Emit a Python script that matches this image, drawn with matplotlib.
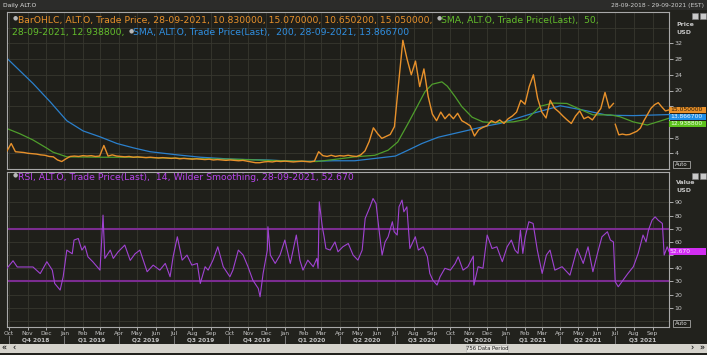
"""
ALT.O daily chart (Eikon style): OHLC price with SMA 50 / SMA 200, RSI 14 panel below.
Output: out.png (707x355).
"""

import matplotlib

matplotlib.use("Agg")

import matplotlib.pyplot as plt
import numpy as np
import pandas as pd
from matplotlib.patches import Rectangle


# ---------------------------------------------------------------------------
# data
# ---------------------------------------------------------------------------

START = pd.Timestamp("2018-09-28")
END = pd.Timestamp("2021-09-28")

# weekly price before the July 2021 gap (28-09-2018 .. 28-06-2021)
close_before_gap = [
    4.6, 6.5, 4.4, 4.3, 4.2, 4.0, 3.9, 3.8, 3.6, 3.5, 3.2, 3.1, 2.3, 1.9, 2.6,
    3.2, 3.3, 3.2, 3.4, 3.3, 3.4, 3.2, 3.3, 6.0, 3.3, 3.6, 3.3, 3.2, 3.1, 3.2,
    3.0, 3.1, 3.0, 2.9, 3.0, 2.9, 2.8, 2.9, 2.8, 2.7, 2.8, 2.6, 2.7, 2.6, 2.5,
    2.6, 2.5, 2.4, 2.5, 2.3, 2.4, 2.3, 2.2, 2.3, 2.2, 2.1, 2.2, 2.0, 1.8, 1.6,
    1.6, 1.8, 1.9, 1.8, 2.0, 1.9, 2.0, 1.9, 1.8, 1.9, 2.0, 1.9, 1.8, 2.0, 4.4,
    3.4, 3.2, 3.5, 3.2, 3.4, 3.3, 3.5, 3.3, 3.2, 3.6, 4.6, 7.0, 10.5, 9.0, 7.8,
    8.3, 8.8, 10.8, 22.0, 32.8, 28.0, 24.0, 27.5, 21.0, 25.5, 18.5, 14.0, 12.3,
    14.5, 12.8, 14.0, 12.8, 14.2, 12.3, 11.7, 11.0, 8.4, 10.0, 10.6, 11.0, 12.3,
    11.8, 12.5, 11.6, 12.8, 13.5, 14.5, 17.5, 16.5, 21.0, 24.0, 18.0, 14.5, 13.0,
    17.5, 15.5, 14.6, 13.5, 12.5, 11.6, 13.5, 14.8, 12.8, 13.3, 12.5, 14.0, 15.4,
    19.5, 15.5, 16.7,
]
GAP_END_DAY = 1004
GAP_START_DAY = 1007

# price after the gap (01-07-2021 .. 28-09-2021)
close_after_gap = [
    11.4, 8.7, 8.9, 8.7, 8.8, 9.2, 9.6, 10.4, 12.3, 13.9, 15.5, 16.4, 16.9,
    15.8, 14.8, 15.05,
]

# SMA 50 (green): days since 28-09-2018, value
sma50_day = [
    0, 21, 43, 66, 76, 99, 154, 209, 265, 320, 374, 431, 485, 513, 540, 576,
    609, 631, 647, 664, 679, 692, 704, 720, 729, 742, 753, 770, 788, 805, 838,
    861, 883, 904, 927, 949, 970, 999, 1015, 1037, 1060, 1081, 1096,
]
sma50_val = [
    10.3, 9.0, 7.4, 5.3, 4.3, 3.1, 3.0, 3.0, 2.8, 2.6, 2.5, 2.2, 2.0, 1.9, 2.4,
    3.1, 3.5, 4.8, 6.9, 11.6, 15.9, 19.7, 21.6, 22.2, 21.1, 18.4, 15.9, 13.2,
    12.0, 11.8, 12.0, 12.7, 16.0, 16.8, 16.7, 15.2, 13.8, 13.8, 13.3, 12.0,
    11.2, 12.2, 12.9388,
]

# SMA 200 (blue)
sma200_day = [
    0, 43, 71, 99, 126, 154, 182, 209, 237, 282, 320, 374, 431, 485, 540, 576,
    643, 664, 687, 714, 742, 770, 792, 816, 871, 916, 954, 994, 1037, 1096,
]
sma200_val = [
    28.2, 21.8, 17.2, 12.3, 9.7, 8.2, 6.5, 5.4, 4.4, 3.6, 3.0, 2.5, 2.3, 1.9,
    2.1, 2.1, 3.3, 4.8, 6.5, 8.1, 9.1, 10.1, 10.9, 11.6, 14.2, 16.1, 15.0,
    13.7, 13.6, 13.8667,
]

# RSI 14 (purple)
rsi_day = [
    0, 10, 17, 43, 55, 66, 75, 79, 88, 93, 99, 108, 111, 118, 124, 129, 134,
    142, 154, 159, 162, 171, 176, 184, 195, 204, 212, 220, 232, 242, 253, 262,
    270, 275, 282, 290, 298, 306, 315, 320, 328, 333, 341, 349, 358, 369, 374,
    383, 391, 399, 407, 416, 419, 424, 431, 432, 436, 444, 452, 460, 469, 479,
    485, 490, 498, 507, 513, 515, 517, 522, 525, 528, 535, 543, 548, 556, 565,
    573, 581, 588, 593, 601, 606, 611, 616, 621, 626, 631, 638, 641, 646, 649,
    654, 657, 662, 667, 676, 681, 689, 696, 700, 705, 712, 717, 725, 734, 742,
    747, 755, 763, 772, 773, 780, 788, 795, 803, 811, 820, 828, 835, 841, 846,
    850, 854, 858, 864, 871, 878, 886, 893, 899, 907, 919, 932, 944, 954, 962,
    970, 979, 985, 994, 999, 1004, 1007, 1012, 1020, 1028, 1037, 1045, 1053,
    1058, 1062, 1068, 1073, 1078, 1085, 1088, 1093, 1096,
]
rsi_val = [
    40.0, 45.7, 41.0, 41.0, 36.0, 45.0, 38.6, 28.5, 23.5, 33.6, 53.8, 51.0,
    61.4, 62.6, 53.8, 57.0, 48.7, 45.0, 38.6, 80.3, 47.5, 53.8, 47.5, 52.5,
    57.6, 46.0, 51.0, 53.8, 37.4, 42.4, 38.6, 43.7, 33.6, 48.7, 63.9, 46.2,
    50.0, 42.4, 43.7, 28.5, 41.2, 38.6, 46.2, 56.3, 41.2, 33.6, 38.6, 53.8,
    50.0, 41.2, 31.0, 24.7, 18.4, 36.1, 53.8, 71.5, 50.0, 43.7, 50.0, 61.4,
    43.7, 65.2, 46.0, 38.6, 46.2, 41.2, 47.5, 40.0, 90.4, 71.5, 63.9, 55.0,
    53.8, 60.0, 52.5, 56.3, 58.8, 50.0, 46.2, 53.8, 77.8, 86.6, 92.9, 89.0,
    68.9, 50.0, 60.0, 63.9, 75.3, 67.7, 65.2, 86.6, 91.7, 82.8, 86.6, 55.0,
    63.9, 53.8, 56.3, 48.7, 36.1, 31.0, 27.3, 33.6, 40.0, 38.6, 43.7, 48.7,
    38.6, 41.2, 49.2, 27.3, 41.2, 40.0, 65.2, 55.0, 56.3, 45.0, 56.3, 61.4,
    53.8, 51.3, 68.9, 51.3, 63.9, 75.3, 74.0, 53.8, 36.1, 50.0, 53.8, 38.6,
    41.2, 34.8, 55.0, 43.7, 56.3, 37.4, 53.8, 63.9, 67.7, 61.4, 60.0, 29.8,
    26.0, 31.0, 36.1, 41.2, 51.3, 65.2, 60.0, 69.0, 76.5, 79.0, 76.5, 74.0,
    50.0, 56.3, 52.67,
]
RSI_LEVELS = [70, 30]

LAST_CLOSE = 15.05
LAST_SMA200 = 13.8667
LAST_SMA50 = 12.9388
LAST_RSI = 52.67

PRICE_TICKS = [4, 8, 12, 16, 20, 24, 28, 32]
RSI_TICKS = [10, 20, 30, 40, 50, 60, 70, 80, 90]
# tick labels sitting under the last-value tags
PRICE_HIDDEN = [12, 16]
RSI_HIDDEN = [50]

OHLC_LABEL = "BarOHLC, ALT.O, Trade Price, 28-09-2021, 10.830000, 15.070000, 10.650200, 15.050000,"
SMA50_LABEL_A = "SMA, ALT.O, Trade Price(Last),  50,"
SMA50_LABEL_B = "28-09-2021, 12.938800,"
SMA200_LABEL = "SMA, ALT.O, Trade Price(Last),  200, 28-09-2021, 13.866700"
RSI_LABEL = "RSI, ALT.O, Trade Price(Last),  14, Wilder Smoothing, 28-09-2021, 52.670"

# ---------------------------------------------------------------------------
# style
# ---------------------------------------------------------------------------

W, H = 707, 355
BG = "#1f1f1a"
FIG_BG = "#22221d"
GRID = "#37372f"
FRAME = "#a8a8a8"
TXT = "#c4c4c4"
ORANGE = "#e8912b"
GREEN_LINE = "#4f9e2c"
GREEN_TXT = "#63bd2c"
BLUE_LINE = "#2b80cc"
BLUE_TXT = "#3090e2"
PURPLE_LINE = "#a043d2"
PURPLE_TXT = "#b845ec"
PURPLE_LEVEL = "#7b2c90"
FONT = "DejaVu Sans"
LEGEND_SIZE = 6.7


def fx(x):
    return x / W


def fy(y):
    return 1 - y / H


def to_dates(days):
    return START + pd.to_timedelta(np.asarray(days), unit="D")


def style_axes(ax, ylim, ticks, hidden, grid_extra):
    ax.set_facecolor(BG)
    for spine in ax.spines.values():
        spine.set_color(FRAME)
        spine.set_linewidth(0.8)
    ax.set_xlim(START, END)
    ax.set_ylim(*ylim)
    ax.yaxis.tick_right()
    ax.set_yticks(ticks)
    ax.set_yticklabels(["" if t in hidden else str(t) for t in ticks])
    ax.tick_params(axis="y", direction="out", length=3, width=0.6, pad=1,
                   labelsize=4.5, colors=TXT)
    months = pd.date_range("2018-10-01", "2021-09-01", freq="MS")
    ax.set_xticks(months)
    ax.grid(True, color=GRID, linewidth=0.6)
    for v in grid_extra:
        ax.axhline(v, color=GRID, linewidth=0.6, zorder=0.5)
    ax.set_axisbelow(True)
    return months


def add_rect(fig, x0, y0, x1, y1, **kw):
    fig.add_artist(Rectangle((fx(x0), fy(y1)), (x1 - x0) / W, (y1 - y0) / H,
                             transform=fig.transFigure, **kw))


def chain_text(fig, renderer, x, y, parts):
    """Draw text pieces one after another on a single row (icons as dots)."""
    for kind, s, color in parts:
        if kind == "icon":
            fig.text(fx(x + 1), fy(y - 2), "\u25cf", fontsize=4.2,
                     color="#b8b8b8", va="center", ha="left", family=FONT)
            x += 6
            continue
        t = fig.text(fx(x), fy(y), s, fontsize=LEGEND_SIZE, color=color,
                     va="center", ha="left", family=FONT)
        x += t.get_window_extent(renderer).width + 3
    return x


def value_tag(fig, y_center, text, face, color):
    add_rect(fig, 669, y_center - 3.4, 706, y_center + 3.4, facecolor=face,
             edgecolor="none")
    fig.text(fx(670), fy(y_center), text, fontsize=4.3, color=color,
             va="center", ha="left", family=FONT)


def main():
    fig = plt.figure(figsize=(W / 100, H / 100), dpi=100, facecolor=FIG_BG)
    renderer = fig.canvas.get_renderer()

    # title strip
    add_rect(fig, 0, 0, W, 10, facecolor="#2c2c2a", edgecolor="none")
    fig.text(fx(3), fy(5), "Daily ALT.O", fontsize=4.3, color="#e6e6e6",
             va="center", ha="left", family=FONT)
    fig.text(fx(704), fy(5), "28-09-2018 - 29-09-2021 (EST)", fontsize=4.3,
             color="#d0d0d0", va="center", ha="right", family=FONT)

    # --- price panel -------------------------------------------------------
    ax_p = fig.add_axes([fx(7), fy(169), 662 / W, 157 / H])
    style_axes(ax_p, (0, 40), PRICE_TICKS, PRICE_HIDDEN, [36])
    ax_p.tick_params(axis="x", length=0, labelbottom=False)

    n1 = len(close_before_gap)
    d1 = pd.date_range(START, START + pd.Timedelta(days=GAP_END_DAY), periods=n1)
    d2 = pd.date_range(START + pd.Timedelta(days=GAP_START_DAY), END,
                       periods=len(close_after_gap))
    ax_p.plot(to_dates(sma200_day), sma200_val, color=BLUE_LINE, lw=0.9, zorder=2)
    ax_p.plot(to_dates(sma50_day), sma50_val, color=GREEN_LINE, lw=0.9, zorder=2)
    ax_p.plot(d1, close_before_gap, color=ORANGE, lw=1.0, zorder=3)
    ax_p.plot(d2, close_after_gap, color=ORANGE, lw=1.0, zorder=3)

    fig.text(fx(676), fy(25), "Price", fontsize=4.5, color=TXT,
             fontweight="bold", family=FONT, va="center")
    fig.text(fx(676), fy(33), "USD", fontsize=4.5, color=TXT,
             fontweight="bold", family=FONT, va="center")

    # --- RSI panel ---------------------------------------------------------
    ax_r = fig.add_axes([fx(7), fy(327), 662 / W, 155 / H])
    months = style_axes(ax_r, (-4.5, 113), RSI_TICKS, RSI_HIDDEN, [0, 100])
    ax_r.plot(to_dates(rsi_day), rsi_val, color=PURPLE_LINE, lw=0.8, zorder=3)
    for level in RSI_LEVELS:
        ax_r.axhline(level, color=PURPLE_LEVEL, lw=1.5, zorder=2)

    ax_r.set_xticklabels([m.strftime("%b") for m in months])
    ax_r.tick_params(axis="x", direction="out", length=2, width=0.6, pad=1.2,
                     labelsize=4.2, colors=TXT)

    xt = ax_r.get_xaxis_transform()
    quarters = pd.date_range("2018-10-01", "2021-07-01", freq="QS")
    for q in quarters:
        mid = q + pd.Timedelta(days=45)
        ax_r.text(mid, -0.085, f"Q{q.quarter} {q.year}", transform=xt,
                  ha="center", va="center", fontsize=4.2, fontweight="bold",
                  color=TXT, family=FONT, clip_on=False)
        ax_r.plot([q, q], [-0.06, -0.11], transform=xt, color="#8a8a8a",
                  lw=0.6, clip_on=False)

    fig.text(fx(676), fy(183), "Value", fontsize=4.5, color=TXT,
             fontweight="bold", family=FONT, va="center")
    fig.text(fx(676), fy(191), "USD", fontsize=4.5, color=TXT,
             fontweight="bold", family=FONT, va="center")

    # --- legends -----------------------------------------------------------
    chain_text(fig, renderer, 12, 20,
               [("icon", "", None), ("text", OHLC_LABEL, ORANGE),
                ("icon", "", None), ("text", SMA50_LABEL_A, GREEN_TXT)])
    chain_text(fig, renderer, 12, 33,
               [("text", SMA50_LABEL_B, GREEN_TXT), ("icon", "", None),
                ("text", SMA200_LABEL, BLUE_TXT)])
    chain_text(fig, renderer, 12, 177,
               [("icon", "", None), ("text", RSI_LABEL, PURPLE_TXT)])

    # --- last value tags ---------------------------------------------------
    _, y_close = ax_p.transData.transform((ax_p.get_xlim()[1], LAST_CLOSE))
    y_close = H - y_close
    value_tag(fig, y_close, f"{LAST_CLOSE:.6f}", ORANGE, "#2a1a05")
    value_tag(fig, y_close + 7, f"{LAST_SMA200:.6f}", "#1f8ee6", "#e8f4ff")
    value_tag(fig, y_close + 14, f"{LAST_SMA50:.6f}", "#5cc21c", "#f0ffe8")
    _, y_rsi = ax_r.transData.transform((ax_r.get_xlim()[1], LAST_RSI))
    value_tag(fig, H - y_rsi, f"{LAST_RSI:.3f}", "#d22ef2", "#fbe6ff")

    # --- small window widgets ---------------------------------------------
    for top in (13, 173):
        add_rect(fig, 692, top, 698, top + 6, facecolor="#c9c9c9",
                 edgecolor="#808080", lw=0.4)
        add_rect(fig, 700, top, 706, top + 6, facecolor="#c9c9c9",
                 edgecolor="#808080", lw=0.4)
    for bottom in (168, 327):
        add_rect(fig, 673, bottom - 7, 690, bottom, facecolor=BG,
                 edgecolor="#c0c0c0", lw=0.5)
        fig.text(fx(681.5), fy(bottom - 3.5), "Auto", fontsize=4.0,
                 color="#d8d8d8", ha="center", va="center", family=FONT)

    # --- scroll bar --------------------------------------------------------
    add_rect(fig, 0, 344, W, 353, facecolor="#d5d3cc", edgecolor="none")
    add_rect(fig, 466, 345, 508, 352, facecolor="#e6e4de", edgecolor="#b0b0b0",
             lw=0.4)
    fig.text(fx(487), fy(348.5), "756 Data Period", fontsize=3.8, color="#202020",
             ha="center", va="center", family=FONT)
    for xpos, s in ((4, "\u00ab"), (14, "\u2039"), (692, "\u203a"), (702, "\u00bb")):
        fig.text(fx(xpos), fy(348.5), s, fontsize=5.5, color="#202020",
                 ha="center", va="center", fontweight="bold", family=FONT)

    fig.savefig("out.png", dpi=100, facecolor=FIG_BG)
    plt.close(fig)


if __name__ == "__main__":
    main()
